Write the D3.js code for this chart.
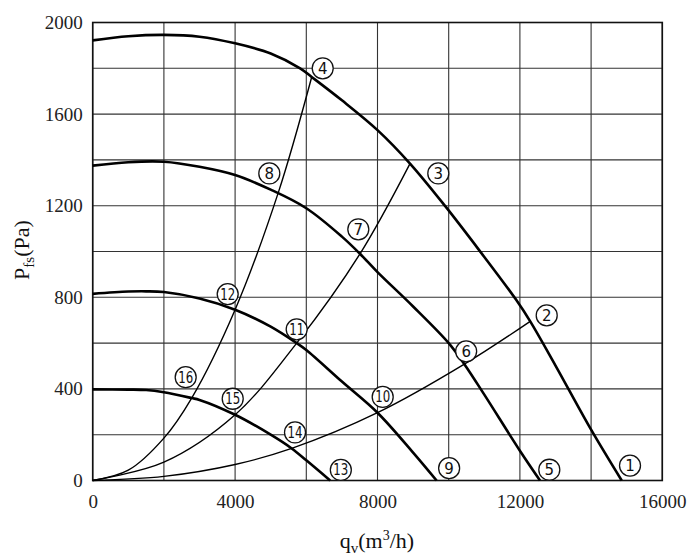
<!DOCTYPE html>
<html>

<head>
    <meta charset=utf-8 />
    <script src="https://cdn.jsdelivr.net/npm/d3@7/dist/d3.min.js"></script>
    <title>fan curves</title>
    <style>
        html,
        body {
            margin: 0;
            padding: 0;
            background: #fff;
        }

        .tick-label {
            font-family: "Liberation Serif", "Times New Roman", serif;
            font-size: 19px;
            fill: #222;
        }

        .axis-title {
            font-family: "Liberation Serif", "Times New Roman", serif;
            font-size: 22px;
            fill: #111;
        }

        .mark text {
            font-family: "DejaVu Sans", "Noto Sans", sans-serif;
            font-size: 15px;
            fill: #111;
        }
    </style>
</head>

<body>
    <div id="svg-canvas"></div>
    <script>
        // fan characteristic curves (qv m3/h, Pfs Pa)
        var curveA = [[0, 1922], [1000, 1940], [2000, 1946], [3000, 1938], [4000, 1909], [5000, 1865], [5826, 1800],
            [6152, 1762], [7000, 1660], [8000, 1530], [8913, 1384], [9897, 1199], [10860, 1005], [11890, 790],
            [12290, 695], [13000, 502], [14000, 222], [14860, 0]];
        var curveB = [[0, 1375], [1000, 1390], [2000, 1392], [3000, 1370], [4000, 1334], [5000, 1270], [6000, 1189],
            [7000, 1065], [7508, 990], [8000, 910], [9000, 760], [10000, 600], [10440, 508], [11000, 375],
            [12000, 130], [12565, 0]];
        var curveC = [[0, 815], [1000, 825], [1500, 826], [2000, 823], [3000, 795], [4000, 746], [5000, 672],
            [5730, 600], [6000, 570], [7000, 432], [8000, 296], [9000, 122], [9660, 0]];
        var curveD = [[0, 398], [1000, 397], [1500, 395], [2000, 385], [2780, 360], [3000, 352], [4000, 287],
            [5000, 200], [5590, 140], [6000, 88], [6670, 0]];

        // system resistance curves from the origin
        var line4 = [[0, 0], [1000, 45], [2000, 185], [2780, 360], [4000, 746], [5213, 1257], [6152, 1762]];
        var line3 = [[0, 0], [2000, 80], [4000, 287], [5730, 600], [7508, 990], [8913, 1384]];
        var line2 = [[0, 0], [2000, 18], [4000, 70], [5590, 140], [8000, 296], [10440, 508], [12290, 695]];

        // circled point numbers
        var markNums = [1, 2, 3, 4, 5, 6, 7, 8, 9, 10, 11, 12, 13, 14, 15, 16];
        var markQ = [15093, 12753, 9708, 6461, 12826, 10490, 7461, 4961, 10012, 8146, 5730, 3792, 6970, 5683, 3933, 2612];
        var markP = [65, 721, 1341, 1800, 47, 564, 1097, 1341, 54, 365, 660, 814, 46, 210, 357, 451];

        var xTicks = [0, 4000, 8000, 12000, 16000];
        var yTicks = [0, 400, 800, 1200, 1600, 2000];
        var xGrid = d3.range(0, 16001, 2000);
        var yGrid = d3.range(0, 2001, 200);
    </script>
    <script>
        var margin = { top: 22.5, left: 92.7 };
        var width = 569.6;
        var height = 458;

        var svg = d3.select('#svg-canvas').append('svg')
            .attr('width', 700)
            .attr('height', 558)

        var canvas = svg.append('g')
            .attr('transform', 'translate(' + margin.left + ',' + margin.top + ')')

        var x = d3.scaleLinear().domain([0, 16000]).range([0, width]);
        var y = d3.scaleLinear().domain([0, 2000]).range([height, 0]);

        // grid
        canvas.append('g').selectAll('line')
            .data(xGrid)
            .enter().append('line')
            .attr('x1', d => x(d)).attr('x2', d => x(d))
            .attr('y1', 0).attr('y2', height)
            .attr('stroke', '#333').attr('stroke-width', 1.1)

        canvas.append('g').selectAll('line')
            .data(yGrid)
            .enter().append('line')
            .attr('y1', d => y(d)).attr('y2', d => y(d))
            .attr('x1', 0).attr('x2', width)
            .attr('stroke', '#333').attr('stroke-width', 1.1)

        canvas.append('rect')
            .attr('width', width).attr('height', height)
            .attr('fill', 'none').attr('stroke', '#111').attr('stroke-width', 1.6)

        // tick labels
        var axisX = canvas.append('g')
            .attr('transform', `translate(0, ${height})`)
            .call(d3.axisBottom(x).tickValues(xTicks).tickSize(0).tickPadding(14).tickFormat(d3.format('d')))
        var axisY = canvas.append('g')
            .call(d3.axisLeft(y).tickValues(yTicks).tickSize(0).tickPadding(10).tickFormat(d3.format('d')))
        canvas.selectAll('.domain').remove()
        canvas.selectAll('.tick text').attr('class', 'tick-label').attr('font-family', null).attr('font-size', null)

        // curves
        var path = d3.line()
            .x(d => x(d[0]))
            .y(d => y(d[1]))
            .curve(d3.curveCatmullRom.alpha(0.5))

        canvas.append('g').selectAll('path')
            .data([line4, line3, line2])
            .enter().append('path')
            .attr('d', path)
            .attr('fill', 'none').attr('stroke', '#000').attr('stroke-width', 1.4)

        canvas.append('g').selectAll('path')
            .data([curveA, curveB, curveC, curveD])
            .enter().append('path')
            .attr('d', path)
            .attr('fill', 'none').attr('stroke', '#000').attr('stroke-width', 2.6)

        // circled numbers
        var marks = canvas.append('g').attr('class', 'mark').selectAll('g')
            .data(markNums)
            .enter().append('g')
            .attr('transform', (d, i) => `translate(${x(markQ[i])}, ${y(markP[i])})`)

        marks.append('circle')
            .attr('r', 10.5)
            .attr('fill', '#fff').attr('stroke', '#111').attr('stroke-width', 1.3)

        marks.append('text')
            .attr('text-anchor', 'middle')
            .attr('dy', '0.36em')
            .attr('textLength', d => d > 9 ? 15 : null)
            .attr('lengthAdjust', 'spacingAndGlyphs')
            .text(d => d)

        // axis titles
        var yTitle = svg.append('text')
            .attr('class', 'axis-title')
            .attr('text-anchor', 'middle')
            .attr('transform', 'translate(29, 250) rotate(-90)')
        yTitle.append('tspan').text('P')
        yTitle.append('tspan').attr('font-size', 15).attr('dy', 5).text('fs')
        yTitle.append('tspan').attr('dy', -5).text('(Pa)')

        var xTitle = svg.append('text')
            .attr('class', 'axis-title')
            .attr('text-anchor', 'middle')
            .attr('x', 377).attr('y', 548)
        xTitle.append('tspan').text('q')
        xTitle.append('tspan').attr('font-size', 15).attr('dy', 5).text('v')
        xTitle.append('tspan').attr('dy', -5).text('(m')
        xTitle.append('tspan').attr('font-size', 14).attr('dy', -8).text('3')
        xTitle.append('tspan').attr('dy', 8).text('/h)')
    </script>
</body>

</html>
